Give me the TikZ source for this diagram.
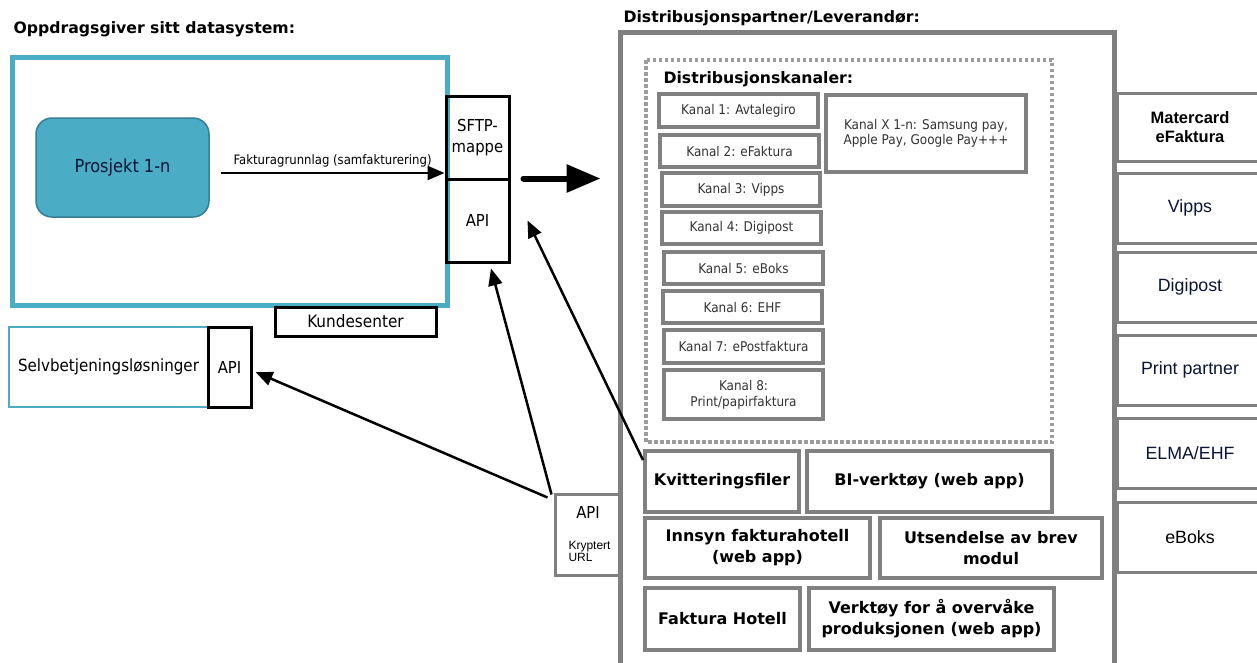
\documentclass[tikz,border=0pt]{standalone}
\usepackage{fontspec}
\setmainfont{DejaVu Sans}
\newfontfamily\condfont{DejaVu Sans Condensed}
\newfontfamily\arialfont{Liberation Sans}
\usetikzlibrary{arrows.meta}
\definecolor{oppblue}{HTML}{4BACC6}
\definecolor{oppedge}{HTML}{357F95}
\definecolor{framegray}{HTML}{808080}
\definecolor{dotgray}{HTML}{9C9C9C}
\definecolor{kanaltext}{HTML}{333333}
\definecolor{navytext}{HTML}{0B1535}
\newcommand\titlefont{\bfseries\fontsize{15.7}{18}\selectfont}
\newcommand\kanalfont{\condfont\fontsize{13.4}{16}\selectfont}
\newcommand\midfont{\condfont\fontsize{16.5}{21}\selectfont}
\newcommand\modfont{\bfseries\fontsize{16}{21}\selectfont}
\newcommand\partfont{\arialfont\fontsize{17.8}{19}\selectfont}
\newcommand\tinyfont{\arialfont\fontsize{12}{12}\selectfont}

\begin{document}
\begin{tikzpicture}[
  x=1pt, y=-1pt,
  sysframe/.style={draw=oppblue, line width=5pt, inner sep=0pt},
  blackbox/.style={draw=black, line width=3pt, font=\midfont, align=center, inner sep=0pt},
  kanal/.style={draw=framegray, line width=4pt, font=\kanalfont, text=kanaltext, align=center, inner sep=0pt},
  modul/.style={draw=framegray, line width=4pt, font=\modfont, align=center, inner sep=0pt},
  partbox/.style={draw=framegray, line width=3pt, font=\partfont, align=center, inner sep=0pt},
  arr/.style={-{Triangle[length=17pt,width=14pt]}, line width=2.5pt},
  bigarr/.style={-{Triangle[length=34pt,width=27pt]}, line width=6pt, line cap=round}
]
\fill[white] (0,0) rectangle (1257,662);
\useasboundingbox (0,0) rectangle (1257,662);
\clip (0,0) rectangle (1257,662);

% Oppdragsgiver
\node[anchor=base west, font=\titlefont] (opptitle) at (10,33) {Oppdragsgiver sitt datasystem:};
\node[sysframe, minimum width=435pt, minimum height=248pt] (oppframe) at (229.5,181) {};
\node[draw=oppedge, fill=oppblue, line width=1.5pt, rounded corners=16pt,
  minimum width=173pt, minimum height=99pt, font=\condfont\fontsize{18}{20}\selectfont,
  text=navytext] (prosjekt) at (122.5,167.5) {Prosjekt 1-n};
\node[blackbox, minimum width=63pt, minimum height=83pt] (sftp) at (477.5,137.5) {SFTP-\\mappe};
\node[blackbox, minimum width=63pt, minimum height=83pt] (api1) at (477.5,220.5) {API};
\node[blackbox, minimum width=161pt, minimum height=29pt, font=\condfont\fontsize{17}{20}\selectfont] (kunde) at (355.5,321.5) {Kundesenter};
\node[draw=oppblue, line width=2.5pt, minimum width=199pt, minimum height=80pt,
  font=\condfont\fontsize{16.8}{20}\selectfont] (selvb) at (108.5,367) {Selvbetjeningsløsninger};
\node[blackbox, minimum width=43pt, minimum height=80pt] (api2) at (229.5,367) {API};
\node[draw=framegray, line width=3pt, minimum width=65pt, minimum height=81pt] (krypt) at (587.5,534.5) {};
\node[font=\midfont] (kryptapi) at (588,512) {API};
\node[font=\tinyfont, align=left, anchor=north west] (krypturl) at (565,538) {Kryptert\\URL};

% Distribusjonspartner
\node[anchor=base west, font=\titlefont] (parttitle) at (620,22) {Distribusjonspartner/Leverandør:};
\node[draw=framegray, line width=5pt, minimum width=494pt, minimum height=670pt] (partner) at (867,367) {};
\draw[dotgray, line width=4pt, dash pattern=on 3.5pt off 2.5pt] (646,60) rectangle (1052,442);
\node[anchor=base west, font=\titlefont] (kanaltitle) at (660,83) {Distribusjonskanaler:};

\node[kanal, minimum width=159pt, minimum height=33pt] (k1) at (738.5,110.5) {Kanal 1: Avtalegiro};
\node[kanal, minimum width=159pt, minimum height=32pt] (k2) at (739.5,151) {Kanal 2: eFaktura};
\node[kanal, minimum width=158pt, minimum height=33pt] (k3) at (741,189.5) {Kanal 3: Vipps};
\node[kanal, minimum width=159pt, minimum height=32pt] (k4) at (741.5,228) {Kanal 4: Digipost};
\node[kanal, minimum width=159pt, minimum height=32pt] (k5) at (743.5,268) {Kanal 5: eBoks};
\node[kanal, minimum width=159pt, minimum height=32pt] (k6) at (742.5,307) {Kanal 6: EHF};
\node[kanal, minimum width=159pt, minimum height=33pt] (k7) at (743.5,346.5) {Kanal 7: ePostfaktura};
\node[kanal, minimum width=159pt, minimum height=49pt] (k8) at (743.5,394.5) {Kanal 8:\\Print/papirfaktura};
\node[kanal, minimum width=200pt, minimum height=77pt] (kx) at (926,133.5) {\raisebox{-4.5pt}{\begin{tabular}{@{}c@{}}Kanal X 1-n: Samsung pay,\\[-1pt]Apple Pay, Google Pay+++\end{tabular}}};

\node[modul, minimum width=154pt, minimum height=61pt] (kvitt) at (722,481.5) {Kvitteringsfiler};
\node[modul, minimum width=245pt, minimum height=61pt] (bi) at (929.5,481.5) {BI-verktøy (web app)};
\node[modul, minimum width=225pt, minimum height=60pt] (innsyn) at (757.5,548) {Innsyn fakturahotell\\(web app)};
\node[modul, minimum width=222pt, minimum height=60pt] (utsend) at (991,548) {Utsendelse av brev\\modul};
\node[modul, minimum width=155pt, minimum height=62pt] (hotell) at (722.5,619) {Faktura Hotell};
\node[modul, minimum width=245pt, minimum height=62pt] (verktoy) at (931.5,619) {Verktøy for å overvåke\\produksjonen (web app)};

% Partnere
\node[partbox, minimum width=146pt, minimum height=68pt, font=\arialfont\bfseries\fontsize{16.5}{19}\selectfont] (mc) at (1190,127) {Matercard\\eFaktura};
\node[partbox, minimum width=146pt, minimum height=70pt, text=navytext] (vipps) at (1190,208) {Vipps};
\node[partbox, minimum width=146pt, minimum height=70pt, text=navytext] (digi) at (1190,287) {Digipost};
\node[partbox, minimum width=146pt, minimum height=70pt, text=navytext] (print) at (1190,370) {Print partner};
\node[partbox, minimum width=146pt, minimum height=70pt, text=navytext] (elma) at (1190,453) {ELMA/EHF};
\node[partbox, minimum width=146pt, minimum height=70pt] (eboks) at (1190,537) {eBoks};

% Piler
\coordinate (faktstart) at ([xshift=11pt,yshift=-5.5pt]prosjekt.east);
\draw[arr] (faktstart) -- (faktstart -| sftp.west)
  node[midway, above=1pt, font=\condfont\fontsize{13}{15}\selectfont] (faktlbl) {Fakturagrunnlag (samfakturering)};
\coordinate (bigstart) at ([xshift=13pt,yshift=2pt]sftp.south east);
\draw[bigarr, shorten >=17pt] (bigstart) -- (bigstart -| partner.west);
\draw[arr] ([xshift=-6pt,yshift=-5pt]krypt.north west) -- ([xshift=3pt,yshift=-5pt]api2.east);
\draw[arr] ([xshift=-2pt,yshift=-2pt]krypt.north west) -- ([xshift=13.5pt,yshift=-5pt]api1.south);
\draw[arr] ([yshift=-11pt]kvitt.north west) -- ([xshift=17pt]api1.east);
\end{tikzpicture}
\end{document}
